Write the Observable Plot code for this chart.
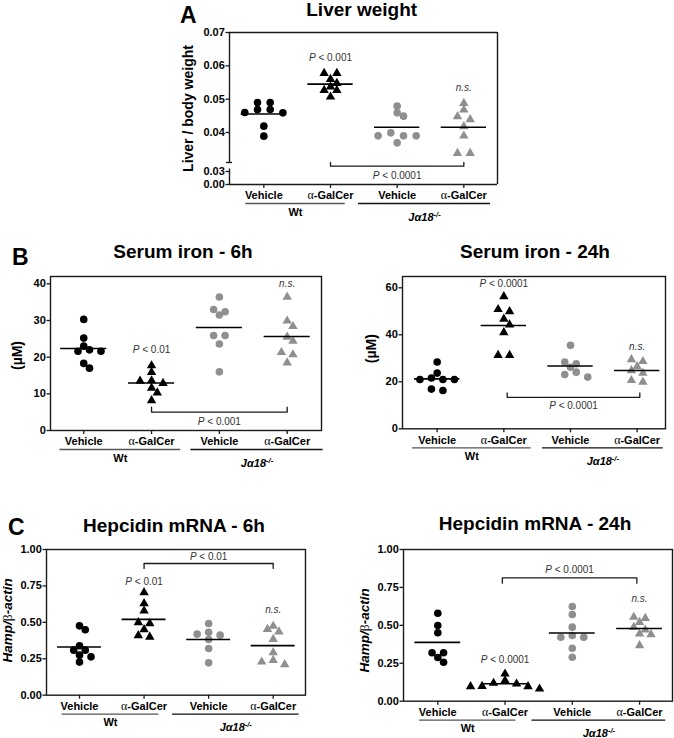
<!DOCTYPE html>
<html><head><meta charset="utf-8">
<script src="https://cdn.jsdelivr.net/npm/d3@7"></script>
<script src="https://cdn.jsdelivr.net/npm/@observablehq/plot@0.6"></script>
<style>
body{margin:0;background:#fff;}
#root{position:relative;width:674px;height:738px;overflow:hidden;background:#fff;font-family:'Liberation Sans',Arial,Helvetica,sans-serif;color:#000;}
.t{position:absolute;font-weight:bold;white-space:nowrap;line-height:1;}
.pl{position:absolute;}
.pl svg{max-width:none !important;}
</style></head><body><div id="root"></div>
<script>
// ---------- DATA ----------
const categories = ["Vehicle", "α-GalCer", "Vehicle", "α-GalCer"];
const genotypes = ["Wt", "Jα18-/-"];

// A: Liver weight (liver / body weight)
const liverWtVehicle = [0.049, 0.049, 0.0469, 0.0469, 0.046, 0.0459, 0.0419, 0.0389];
const liverWtGalCer  = [0.0578, 0.0578, 0.056, 0.0548, 0.0537, 0.0527, 0.0527, 0.0507];
const liverKoVehicle = [0.0479, 0.0459, 0.0449, 0.0399, 0.039, 0.039, 0.039, 0.0369];
const liverKoGalCer  = [0.0488, 0.0468, 0.0448, 0.0439, 0.0418, 0.039, 0.0338, 0.0338];
const liverTicks = [0, 0.03, 0.04, 0.05, 0.06, 0.07];
const liverPvals = [{x: 1, y: 0.0624, text: "P < 0.001"}, {x: 3, y: 0.0534, text: "n.s."}];
const liverBracket = {from: 1, to: 3, y: 0.03059, tip: 0.031, label: "P < 0.0001", labelY: 0.0208};

// B: Serum iron 6h (µM)
const iron6WtVehicle = [30.3, 25.2, 23.0, 22.0, 21.6, 21.6, 18.3, 17.0];
const iron6WtGalCer  = [17.7, 15.9, 13.6, 13.5, 12.9, 11.6, 10.3, 8.2];
const iron6KoVehicle = [36.4, 33.0, 32.4, 31.5, 25.9, 25.9, 23.6, 16.0];
const iron6KoGalCer  = [36.4, 29.9, 28.4, 25.5, 24.4, 21.3, 20.7, 18.5];
const iron6Ticks = [0, 10, 20, 30, 40];
const iron6Pvals = [{x: 1, y: 22.0, text: "P < 0.01"}, {x: 3, y: 40.0, text: "n.s."}];
const iron6Bracket = {from: 1, to: 3, y: 5.0, tip: 6.35, label: "P < 0.001", labelY: 2.45};

// B: Serum iron 24h (µM)
const iron24WtVehicle = [28.4, 23.7, 21.6, 21.0, 21.0, 21.0, 16.9, 16.3];
const iron24WtGalCer  = [56.3, 50.8, 49.9, 46.7, 44.3, 41.0, 31.3, 31.3];
const iron24KoVehicle = [35.5, 28.4, 27.7, 26.2, 24.1, 23.1, 22.0];
const iron24KoGalCer  = [29.5, 28.7, 26.5, 24.8, 23.7, 20.6, 19.9];
const iron24Ticks = [0, 20, 40, 60];
const iron24Pvals = [{x: 1, y: 61.7, text: "P < 0.0001"}, {x: 3, y: 34.7, text: "n.s."}];
const iron24Bracket = {from: 1.05, to: 3.04, y: 13.4, tip: 15.3, label: "P < 0.0001", labelY: 9.6};

// C: Hepcidin mRNA 6h (Hamp/β-actin)
const hep6WtVehicle = [0.476, 0.449, 0.339, 0.309, 0.309, 0.275, 0.263, 0.227];
const hep6WtGalCer  = [0.705, 0.629, 0.579, 0.499, 0.492, 0.451, 0.41, 0.40];
const hep6KoVehicle = [0.492, 0.432, 0.419, 0.412, 0.382, 0.32, 0.222];
const hep6KoGalCer  = [0.474, 0.453, 0.435, 0.384, 0.293, 0.24, 0.229, 0.211];
const hepTicks = [0, 0.25, 0.5, 0.75, 1.0];
const hep6Pvals = [{x: 1, y: 0.778, text: "P < 0.01"}, {x: 3, y: 0.583, text: "n.s."}];
const hep6Bracket = {from: 1, to: 3, y: 0.904, tip: 0.87, label: "P < 0.01", labelY: 0.949};

// C: Hepcidin mRNA 24h
const hep24WtVehicle = [0.58, 0.499, 0.451, 0.319, 0.319, 0.288, 0.257];
const hep24WtGalCer  = [0.18, 0.136, 0.119, 0.114, 0.099, 0.097, 0.097, 0.081];
const hep24KoVehicle = [0.624, 0.571, 0.488, 0.433, 0.422, 0.422, 0.349, 0.29];
const hep24KoGalCer  = [0.554, 0.547, 0.521, 0.488, 0.47, 0.444, 0.44, 0.367];
const hep24Pvals = [{x: 1, y: 0.275, text: "P < 0.0001"}, {x: 3, y: 0.675, text: "n.s."}];
const hep24Bracket = {from: 0.96, to: 2.96, y: 0.813, tip: 0.778, label: "P < 0.0001", labelY: 0.866};

// ---------- LAYOUT / STYLE ----------
const MT = 10, MB = 45, MR = 2;
const FONT = "'Liberation Sans', Arial, Helvetica, sans-serif";
const SERIF = "'Liberation Serif', 'Times New Roman', serif";
const GRAY = "#8f8f8f", INK = "#1a1a1a";
const groupStyle = [
  {symbol: "circle", fill: "#000", r: 3.8},
  {symbol: "triangle", fill: "#000", r: 3.5},
  {symbol: "circle", fill: GRAY, r: 3.8},
  {symbol: "triangle", fill: GRAY, r: 3.5}
];

const panels = [
  {title: "Liver weight", tx: 361.7, tb: 16, ylabel: "Liver / body weight",
   series: [liverWtVehicle, liverWtGalCer, liverKoVehicle, liverKoGalCer], ticks: liverTicks, fmt: ".2f",
   pvals: liverPvals, bracket: liverBracket,
   box: {L: 229, T: 32, R: 497, B: 184}, ml: 60, xDomain: [-0.515, 3.505],
   yDomain: [0, 0.03, 0.031, 0.07], yPx: [184, 171, 162, 32], brk: [0.03028, 0.031],
   spacing: 12.7, ylabelDx: -41, ylabelDy: 0, ylabelSize: 14, spans: [[-0.27, 1.22], [1.42, 3.4]]},
  {title: "Serum iron - 6h", tx: 183, tb: 258, ylabel: "(µM)",
   series: [iron6WtVehicle, iron6WtGalCer, iron6KoVehicle, iron6KoGalCer], ticks: iron6Ticks, fmt: "d",
   pvals: iron6Pvals, bracket: iron6Bracket,
   box: {L: 50, T: 276, R: 321, B: 430}, ml: 50, xDomain: [-0.49, 3.506],
   yDomain: [0, 42], yPx: [430, 276],
   spacing: 11.5, ylabelDx: -33, ylabelDy: 2, ylabelSize: 14, spans: [[-0.35, 1.43], [1.58, 3.53]]},
  {title: "Serum iron - 24h", tx: 535, tb: 258, ylabel: "(µM)",
   series: [iron24WtVehicle, iron24WtGalCer, iron24KoVehicle, iron24KoGalCer], ticks: iron24Ticks, fmt: "d",
   pvals: iron24Pvals, bracket: iron24Bracket,
   box: {L: 402, T: 276, R: 665, B: 428.3}, ml: 60, xDomain: [-0.52, 3.425],
   yDomain: [0, 64.8], yPx: [428.3, 276],
   spacing: 11.5, ylabelDx: -30.5, ylabelDy: -4, ylabelSize: 14, spans: [[-0.37, 1.41], [1.58, 3.39]]},
  {title: "Hepcidin mRNA - 6h", tx: 174, tb: 532, ylabel: "Hamp/β-actin",
   series: [hep6WtVehicle, hep6WtGalCer, hep6KoVehicle, hep6KoGalCer], ticks: hepTicks, fmt: ".2f",
   pvals: hep6Pvals, bracket: hep6Bracket,
   box: {L: 46, T: 549.3, R: 305, B: 695}, ml: 46, xDomain: [-0.511, 3.5],
   yDomain: [0, 1], yPx: [695, 549.3],
   spacing: 11.5, ylabelDx: -38.5, ylabelDy: -2, ylabelSize: 13.5, spans: [[-0.27, 1.23], [1.44, 3.4]]},
  {title: "Hepcidin mRNA - 24h", tx: 535, tb: 530, ylabel: "Hamp/β-actin",
   series: [hep24WtVehicle, hep24WtGalCer, hep24KoVehicle, hep24KoGalCer], ticks: hepTicks, fmt: ".2f",
   pvals: hep24Pvals, bracket: hep24Bracket,
   box: {L: 403, T: 549, R: 672, B: 700.7}, ml: 60, xDomain: [-0.51, 3.49],
   yDomain: [0, 1], yPx: [700.7, 549],
   spacing: 11.5, ylabelDx: -39, ylabelDy: 5, ylabelSize: 13.5, spans: [[-0.27, 1.16], [1.4, 3.39]]}
];
const letters = [{t: "A", x: 180, b: 23}, {t: "B", x: 12, b: 265}, {t: "C", x: 8, b: 535}];

// ---------- helpers ----------
// column-scatter layout: points close in value share a row, spread symmetrically, centre first
function swarm(vals, ypx, s, t, d) {
  const order = d3.range(vals.length).sort((a, b) => ypx(vals[a]) - ypx(vals[b]));
  const rows = []; let cur = [], last = null;
  for (const k of order) {
    const y = ypx(vals[k]);
    if (cur.length && y - last > t) { rows.push(cur); cur = []; }
    cur.push(k); last = y;
  }
  if (cur.length) rows.push(cur);
  const off = new Array(vals.length).fill(0);
  const placed = [];
  const shifts = [0, 0.5, -0.5, 1, -1, 1.5, -1.5, 2, -2];
  for (const row of rows) {
    const n = row.length;
    const slots = d3.range(n).map(j => (j - (n - 1) / 2) * s)
      .sort((a, b) => Math.abs(a) - Math.abs(b) || a - b);
    let chosen = slots;
    for (const sh of shifts) {
      const cand = slots.map(b => b + sh * s);
      const ok = row.every((k, j) => placed.every(q => Math.hypot(q.x - cand[j], q.y - ypx(vals[k])) >= d));
      if (ok) { chosen = cand; break; }
    }
    row.forEach((k, j) => { off[k] = chosen[j]; placed.push({x: chosen[j], y: ypx(vals[k])}); });
  }
  return off;
}

const NS = "http://www.w3.org/2000/svg";
function ts(parent, str, attrs) {
  const t = document.createElementNS(NS, "tspan");
  t.textContent = str;
  for (const k in attrs) t.setAttribute(k, attrs[k]);
  parent.appendChild(t);
  return t;
}
function richText(svg) {
  svg.querySelectorAll("text").forEach(el => {
    const s = el.textContent;
    if (s === "α-GalCer") {
      el.textContent = "";
      ts(el, "α", {"font-family": SERIF, "font-weight": "normal", "font-size": "12"});
      ts(el, "-GalCer", {});
    } else if (s === "Jα18-/-") {
      el.textContent = "";
      ts(el, "Jα18", {"font-style": "italic"});
      ts(el, "-/-", {"font-style": "italic", "font-size": "7.5", "dy": "-4"});
    } else if (s === "Hamp/β-actin") {
      el.textContent = "";
      ts(el, "Hamp/", {"font-style": "italic"});
      ts(el, "β", {"font-family": SERIF, "font-weight": "normal"});
      ts(el, "-actin", {"font-style": "italic"});
    } else if (s.startsWith("P <")) {
      el.textContent = "";
      ts(el, "P", {"font-style": "italic"});
      ts(el, s.slice(1), {});
    } else if (s === "n.s.") {
      el.setAttribute("font-style", "italic");
    }
  });
}

const root = document.getElementById("root");
function addText(str, x, baseline, size, center) {
  const d = document.createElement("div");
  d.className = "t";
  d.textContent = str;
  d.style.fontSize = size + "px";
  d.style.top = (baseline - 0.8465 * size) + "px";
  d.style.left = x + "px";
  if (center) d.style.transform = "translateX(-50%)";
  root.appendChild(d);
}

// ---------- build ----------
for (const p of panels) {
  const svgLeft = p.box.L - p.ml, svgTop = p.box.T - MT;
  const width = p.ml + (p.box.R - p.box.L) + MR;
  const height = MT + (p.box.B - p.box.T) + MB;
  const yRange = p.yPx.map(v => v - svgTop);
  const ypx = d3.scaleLinear(p.yDomain, yRange);
  const step = (p.box.R - p.box.L) / (p.xDomain[1] - p.xDomain[0]);
  const yMin = p.yDomain[0], yMax = p.yDomain[p.yDomain.length - 1];
  const [x0, x1] = p.xDomain;

  const marks = [];
  // frame / axis lines
  if (p.brk) {
    marks.push(Plot.ruleY([yMax], {x1: x0, x2: x1, stroke: INK, strokeWidth: 1.4}));
    marks.push(Plot.ruleY([yMin], {x1: x0, x2: x1, stroke: INK, strokeWidth: 1.4}));
    marks.push(Plot.ruleX([x1], {y1: yMin, y2: yMax, stroke: INK, strokeWidth: 1.4}));
    marks.push(Plot.ruleX([x0], {y1: yMin, y2: p.brk[0], stroke: INK, strokeWidth: 1.4}));
    marks.push(Plot.ruleX([x0], {y1: p.brk[1], y2: yMax, stroke: INK, strokeWidth: 1.4}));
    marks.push(Plot.ruleY([p.brk[1]], {x1: x0 - 3 / step, x2: x0 + 3 / step, stroke: INK, strokeWidth: 1.4}));
  } else {
    marks.push(Plot.frame({stroke: INK, strokeWidth: 1.4}));
  }
  marks.push(Plot.axisY({ticks: p.ticks, tickFormat: d3.format(p.fmt), tickSize: 3.5, tickPadding: 1.2, label: null, stroke: INK, strokeWidth: 1.3}));
  marks.push(Plot.axisX({ticks: [0, 1, 2, 3], tickFormat: i => categories[i], tickSize: 4, tickPadding: 3, label: null, stroke: INK, strokeWidth: 1.3}));

  // points
  p.series.forEach((vals, g) => {
    const offs = swarm(vals, ypx, p.spacing, 3, 6);
    const pts = vals.map((v, i) => ({value: v, x: g + offs[i] / step}));
    const st = groupStyle[g];
    marks.push(Plot.dot(pts, {x: "x", y: "value", r: st.r, symbol: st.symbol, fill: st.fill, stroke: "none"}));
  });
  // means
  const means = p.series.map((vals, g) => ({g, mean: d3.mean(vals)}));
  marks.push(Plot.ruleY(means, {y: "mean", x1: d => d.g - 0.34, x2: d => d.g + 0.34, stroke: "#000", strokeWidth: 1.6}));

  // significance
  marks.push(Plot.text(p.pvals, {x: "x", y: "y", text: "text", fontSize: 10, fontWeight: "normal", fill: "#333"}));
  const b = p.bracket;
  marks.push(Plot.line([{x: b.from, y: b.tip}, {x: b.from, y: b.y}, {x: b.to, y: b.y}, {x: b.to, y: b.tip}], {x: "x", y: "y", stroke: INK, strokeWidth: 1.3}));
  marks.push(Plot.text([b], {x: d => (d.from + d.to) / 2, y: "labelY", text: "label", fontSize: 10, fontWeight: "normal", fill: "#333"}));

  // genotype grouping
  const spans = genotypes.map((name, i) => ({name, a: p.spans[i][0], b: p.spans[i][1]}));
  marks.push(Plot.ruleY(spans, {y: () => yMin, x1: "a", x2: "b", dy: 19, stroke: (d) => d.name === "Wt" ? "#555" : "#111", strokeWidth: 1.3}));
  marks.push(Plot.text(spans.slice(0, 1), {x: d => (d.a + d.b) / 2, y: () => yMin, dy: 27.5, text: "name", fontSize: 11, fontWeight: "bold"}));
  marks.push(Plot.text(spans.slice(1), {x: d => (d.a + d.b) / 2, y: () => yMin, dy: 32.5, text: "name", fontSize: 11, fontWeight: "bold"}));

  // y label
  marks.push(Plot.text([p.ylabel], {frameAnchor: "left", textAnchor: "middle", text: d => d, rotate: -90, dx: p.ylabelDx, dy: p.ylabelDy, fontSize: p.ylabelSize, fontWeight: "bold"}));

  const chart = Plot.plot({
    width, height,
    marginLeft: p.ml, marginRight: MR, marginTop: MT, marginBottom: MB,
    style: `font-family:${FONT};font-size:11px;font-weight:bold;color:#000;background:transparent;overflow:visible;`,
    x: {type: "linear", domain: p.xDomain},
    y: {type: "linear", domain: p.yDomain, range: yRange},
    marks
  });
  richText(chart);
  const holder = document.createElement("div");
  holder.className = "pl";
  holder.style.left = svgLeft + "px";
  holder.style.top = svgTop + "px";
  holder.style.width = width + "px";
  holder.style.height = height + "px";
  holder.appendChild(chart);
  root.appendChild(holder);

  addText(p.title, p.tx, p.tb, 19, true);
}
for (const l of letters) addText(l.t, l.x, l.b, 23, false);
</script>
</body></html>
